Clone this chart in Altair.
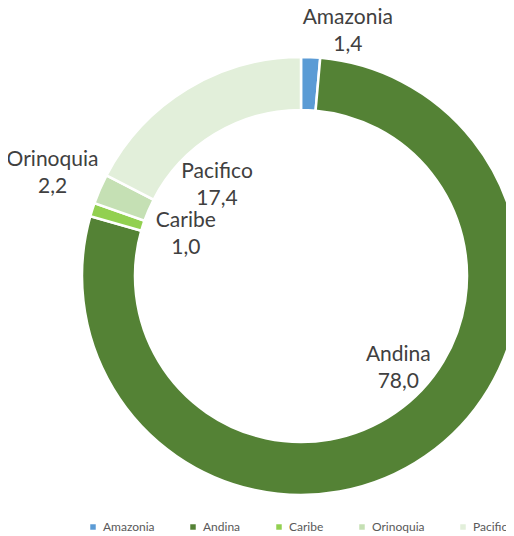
import altair as alt
import pandas as pd

categories = ["Amazonia", "Andina", "Caribe", "Orinoquia", "Pacifico"]
values = [1.4, 78.0, 1.0, 2.2, 17.4]
value_labels = ["1,4", "78,0", "1,0", "2,2", "17,4"]
colors = ["#5B9BD5", "#548235", "#92D050", "#C5E0B4", "#E2EFDA"]

df = pd.DataFrame({
    "cat": categories,
    "val": values,
    "lab": [c + "\n" + v for c, v in zip(categories, value_labels)],
    "ord": list(range(len(categories))),
})

CX, CY = 293, 268

base = alt.Chart(df).encode(
    theta=alt.Theta("val:Q", stack=True),
    order=alt.Order("ord:Q"),
)

arc = base.mark_arc(outerRadius=219, innerRadius=166, stroke="white", strokeWidth=2.5).encode(
    x=alt.value(CX), y=alt.value(CY),
    color=alt.Color("cat:N", scale=alt.Scale(domain=categories, range=colors),
                    legend=alt.Legend(title=None, orient="none", legendX=79, legendY=513,
                                      direction="horizontal", symbolType="square",
                                      symbolSize=30, labelFontSize=12, labelColor="#595959",
                                      labelFont="Lato", columnPadding=32, labelOffset=4,
                                      symbolStrokeWidth=0)),
)

label_layout = {
    "Amazonia": (246, 36, -12),
    "Andina": (131, 23, -29),
    "Caribe": (124, 3, -17),
    "Orinoquia": (274, 3, -7),
    "Pacifico": (125, -19, 3),
}

layers = [arc]
for cat in categories:
    r, dx, dy = label_layout[cat]
    layers.append(
        base.mark_text(radius=r, dx=dx, dy=dy, lineBreak="\n", font="Lato", fontSize=21,
                       color="#404040", align="center", baseline="middle", lineHeight=27).encode(
            x=alt.value(CX), y=alt.value(CY),
            text=alt.condition(f"datum.cat == '{cat}'", "lab:N", alt.value("")),
        )
    )

chart = alt.layer(*layers).properties(
    width=498, height=528, autosize=alt.AutoSizeParams(type="none"), padding=0
).configure_view(stroke=None)

chart.save("out.html", embed_options={"renderer": "svg", "actions": False})
